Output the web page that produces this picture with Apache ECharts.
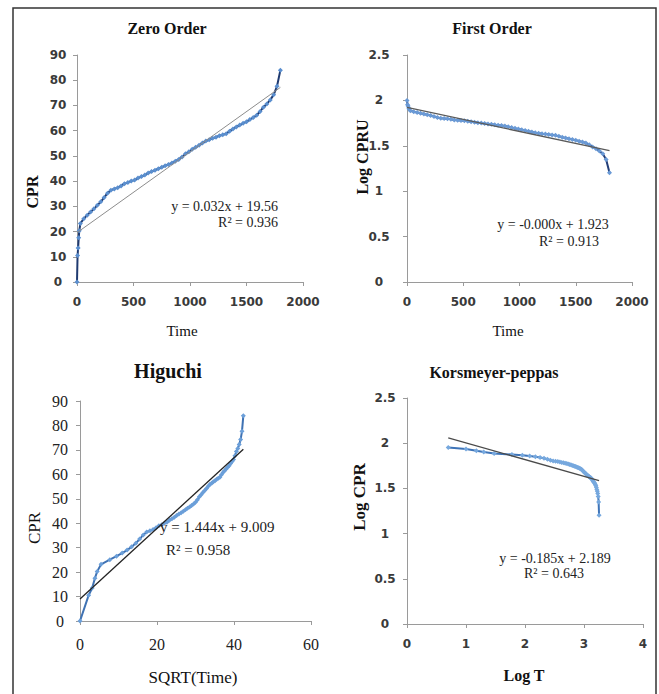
<!DOCTYPE html>
<html>
<head>
<meta charset="utf-8">
<script src="https://cdn.jsdelivr.net/npm/echarts@6/dist/echarts.min.js"></script>
<style>
  html, body { margin: 0; padding: 0; background: #ffffff; }
  #chart { width: 659px; height: 694px; }
</style>
</head>
<body>
<div id="chart"></div>
<script>
// Release time points (minutes) and cumulative percent released (CPR)
const timeMin = [
  0, 5, 10, 15, 20, 30,
  60, 90, 120, 150, 180, 210, 240, 270, 300, 330,
  360, 390, 420, 450, 480, 510, 540, 570, 600, 630,
  660, 690, 720, 750, 780, 810, 840, 870, 900, 930,
  960, 990, 1020, 1050, 1080, 1110, 1140, 1170, 1200, 1230,
  1260, 1290, 1320, 1350, 1380, 1410, 1440, 1470, 1500, 1530,
  1560, 1590, 1620, 1650, 1680, 1710, 1740, 1770, 1800
];
const cprPct = [
  0, 10.5, 13.5, 17.5, 20.3, 23.2,
  25.1, 26.5, 27.8, 29.0, 30.4, 31.8, 33.5, 35.2, 36.4, 36.9,
  37.4, 38.1, 39.0, 39.4, 40.0, 40.4, 41.2, 41.8, 42.4, 43.2,
  43.8, 44.3, 44.9, 45.5, 46.1, 46.6, 47.2, 47.9, 48.6, 49.6,
  50.8, 51.6, 52.6, 53.4, 54.2, 55.1, 55.9, 56.4, 57.0, 57.4,
  58.0, 58.4, 58.8, 59.8, 60.7, 61.5, 62.2, 62.9, 63.5, 64.4,
  65.2, 66.1, 67.6, 69.3, 70.6, 72.2, 74.2, 77.6, 84.0
];

// Panel titles and axis titles
const panelTitles = ['Zero Order', 'First Order', 'Higuchi', 'Korsmeyer-peppas'];
const xAxisTitles = ['Time', 'Time', 'SQRT(Time)', 'Log T'];
const yAxisTitles = ['CPR', 'Log CPRU', 'CPR', 'Log CPR'];

// Axis ranges (ticks run from min in steps of interval)
const xAxisMax = [2000, 2000, 60, 4];
const xAxisStep = [500, 500, 20, 1];
const yAxisMax = [90, 2.5, 90, 2.5];
const yAxisStep = [10, 0.5, 10, 0.5];

// Linear fits shown on each panel
const fitSlopes = [0.032, -0.000265, 1.444, -0.185];
const fitIntercepts = [19.56, 1.923, 9.009, 2.189];
const fitR2 = ['0.936', '0.913', '0.958', '0.643'];

// Model coordinates for each panel
const zeroOrderPts = timeMin.map((t, i) => [t, cprPct[i]]);
const firstOrderPts = timeMin.map((t, i) => [t, Math.log10(100 - cprPct[i])]);
const higuchiPts = timeMin.map((t, i) => [Math.sqrt(t), cprPct[i]]);
const peppasPts = timeMin
  .map((t, i) => (t > 0 ? [Math.log10(t), Math.log10(100 - cprPct[i])] : null))
  .filter(p => p !== null);
const panelPts = [zeroOrderPts, firstOrderPts, higuchiPts, peppasPts];

function fitLine(k) {
  const xs = panelPts[k].map(p => p[0]);
  const x0 = Math.min(...xs), x1 = Math.max(...xs);
  return [x0, x1].map(x => [x, fitSlopes[k] * x + fitIntercepts[k]]);
}
function equationText(k) {
  const b = fitIntercepts[k];
  return 'y = ' + fitSlopes[k].toFixed(3) + 'x + ' + b;
}

// Layout of the four plot areas
const grids = [
  { left: 77, top: 55, width: 226, height: 227 },
  { left: 407, top: 55, width: 225, height: 227 },
  { left: 80, top: 401, width: 231, height: 220 },
  { left: 407, top: 398, width: 236, height: 226 }
];

const serif = "'Liberation Serif', 'Times New Roman', serif";
const sansTick = { fontFamily: "'DejaVu Sans', sans-serif", fontWeight: 'bold', fontSize: 12, color: '#3a3a3a' };
const serifTick = { fontFamily: serif, fontWeight: 'normal', fontSize: 16, color: '#222' };
const tickStyles = [sansTick, sansTick, serifTick, sansTick];
const yLabelMargin = [19, 28, 20, 22];
const xLabelMargin = [14, 14, 15, 14];
const plainNumber = v => String(v);

const lineColors = ['#1f3a70', '#243f78', '#3f72b3', '#3e74b8'];
const markColors = ['#5b8fcf', '#6a9ad6', '#6b9fd9', '#76a8de'];
const fitColors = ['#8c8c8c', '#5a5a5a', '#222222', '#4a4a4a'];

const axisLineStyle = { lineStyle: { color: '#9a9a9a', width: 1 } };

const xAxes = grids.map((g, k) => ({
  type: 'value', gridIndex: k, min: 0, max: xAxisMax[k], interval: xAxisStep[k],
  axisLine: axisLineStyle,
  axisTick: { show: true, inside: false, length: 4, lineStyle: { color: '#9a9a9a' } },
  splitLine: { show: false },
  axisLabel: Object.assign({ margin: xLabelMargin[k], formatter: plainNumber }, tickStyles[k])
}));
const yAxes = grids.map((g, k) => ({
  type: 'value', gridIndex: k, min: 0, max: yAxisMax[k], interval: yAxisStep[k],
  axisLine: Object.assign({ show: true }, axisLineStyle),
  axisTick: { show: true, inside: false, length: 4, lineStyle: { color: '#9a9a9a' } },
  splitLine: { show: false },
  axisLabel: Object.assign({ margin: yLabelMargin[k], align: 'center', formatter: plainNumber }, tickStyles[k])
}));

const series = [];
for (let k = 0; k < 4; k++) {
  series.push({
    type: 'line', xAxisIndex: k, yAxisIndex: k, data: panelPts[k],
    symbol: 'diamond', symbolSize: 5, showSymbol: true,
    lineStyle: { color: lineColors[k], width: 2 },
    itemStyle: { color: markColors[k] },
    animation: false, z: 3
  });
  series.push({
    type: 'line', xAxisIndex: k, yAxisIndex: k, data: fitLine(k),
    symbol: 'none',
    lineStyle: { color: fitColors[k], width: k === 0 ? 1 : 1.3 },
    animation: false, z: 4
  });
}

function txt(text, x, y, font, opts) {
  opts = opts || {};
  return {
    type: 'text', x: x, y: y, rotation: opts.rotation || 0, z: 10,
    style: {
      text: text, font: font, fill: opts.fill || '#111',
      align: opts.align || 'center', verticalAlign: 'middle',
      textAlign: opts.align || 'center', textVerticalAlign: 'middle'
    }
  };
}

const titleFont = 'bold 16px ' + serif;
const eqFont = '14px ' + serif;
const graphics = [
  { type: 'rect', shape: { x: 13, y: 8, width: 643, height: 700 },
    style: { fill: 'none', stroke: '#333', lineWidth: 1.5 }, z: 0 },
  // panel titles
  txt(panelTitles[0], 167, 28, titleFont),
  txt(panelTitles[1], 492, 28, titleFont),
  txt(panelTitles[2], 168, 371, 'bold 20px ' + serif),
  txt(panelTitles[3], 494, 372, titleFont),
  // axis titles
  txt(yAxisTitles[0], 32, 192, 'bold 16px ' + serif, { rotation: Math.PI / 2 }),
  txt(xAxisTitles[0], 182, 331, '15px ' + serif),
  txt(yAxisTitles[1], 362, 157, 'bold 16px ' + serif, { rotation: Math.PI / 2 }),
  txt(xAxisTitles[1], 508, 331, '15px ' + serif),
  txt(yAxisTitles[2], 34, 528, '17px ' + serif, { rotation: Math.PI / 2 }),
  txt(xAxisTitles[2], 193, 677, '17px ' + serif),
  txt(yAxisTitles[3], 359, 497, 'bold 17px ' + serif, { rotation: Math.PI / 2 }),
  txt(xAxisTitles[3], 524, 675, 'bold 16px ' + serif),
  // fitted equations
  txt(equationText(0), 278, 206, eqFont, { align: 'right', fill: '#222' }),
  txt('R\u00b2 = ' + fitR2[0], 278, 222, eqFont, { align: 'right', fill: '#222' }),
  txt(equationText(1), 553, 224, eqFont, { fill: '#222' }),
  txt('R\u00b2 = ' + fitR2[1], 569, 241, eqFont, { fill: '#222' }),
  txt(equationText(2), 160, 527, '15px ' + serif, { align: 'left', fill: '#222' }),
  txt('R\u00b2 = ' + fitR2[2], 166, 550, '15px ' + serif, { align: 'left', fill: '#222' }),
  txt(equationText(3), 555, 558, eqFont, { fill: '#222' }),
  txt('R\u00b2 = ' + fitR2[3], 554, 573, eqFont, { fill: '#222' })
];

const chart = echarts.init(document.getElementById('chart'), null, { renderer: 'svg' });
chart.setOption({
  backgroundColor: '#ffffff',
  animation: false,
  grid: grids.map(g => Object.assign({ containLabel: false }, g)),
  xAxis: xAxes,
  yAxis: yAxes,
  series: series,
  graphic: graphics
});
</script>
</body>
</html>
